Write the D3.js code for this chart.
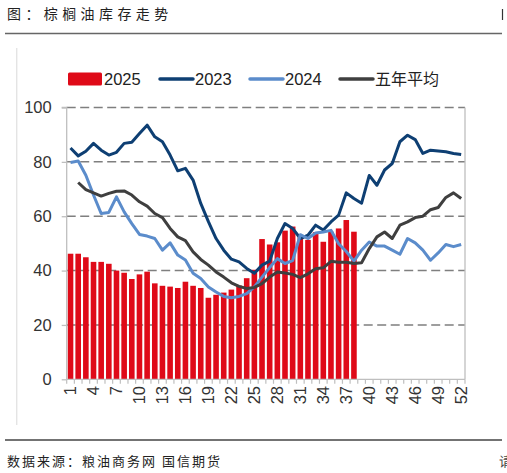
<!DOCTYPE html>
<html><head><meta charset="utf-8">
<script src="https://cdn.jsdelivr.net/npm/d3@7"></script>
<style>html,body{margin:0;padding:0;background:#fff;overflow:hidden}</style>
</head><body>
<svg id="c" width="507" height="473"></svg>
<script>
const weeks = d3.range(1, 53);
const tickWeeks = [1,4,7,10,13,16,19,22,25,28,31,34,37,40,43,46,49,52];
const yTicks = [0,20,40,60,80,100];
const d2025 = [46.2,46.2,44.9,43.2,43.2,42.5,40.0,39.2,36.9,38.6,39.6,35.3,34.4,34.1,33.6,35.9,34.4,33.6,30.0,31.1,31.9,33.0,34.5,37.2,40.3,51.6,49.6,50.4,54.7,56.2,52.2,51.3,54.1,50.6,54.3,55.5,58.6,54.3];
const d2023 = [85.1,82.2,83.9,86.8,84.3,82.5,83.5,86.8,87.2,90.4,93.5,89.2,87.4,82.5,76.7,77.6,73.3,64.7,58,51.8,47.5,44.2,43.2,40.8,39,42,43.5,51.8,57.3,55.5,51.8,53,56.7,54.9,57.9,60.4,68.6,66.5,64.8,75,71.4,77,79.4,87.4,89.8,88.2,83.1,84.3,84,83.7,83.1,82.7];
const d2024 = [79.8,80.3,75.1,67.8,61,61.4,67.1,61.6,57.3,53.3,52.7,51.8,47.5,50.2,45.7,43.9,39,37.1,34,32.1,30.5,30,30.5,31.5,34,37.6,41.1,44.4,42.6,43.7,53.2,51.8,53.8,54.2,54.8,49.9,47,43.5,47.5,50.5,49,49,47.5,46,51.8,50.2,47.5,43.8,46.5,49.6,48.8,49.6];
const avg5 = [null,72.4,69.8,68.6,67.4,68.4,69.2,69.3,67.8,65.3,63.7,61,59.5,55.5,52.4,51,46.9,44.1,42,39.5,37.6,35.5,34.2,33.4,33.8,35.2,37.6,39.5,39.1,38.6,37.4,38.8,40.7,41,43.4,43.1,43.1,42.6,42.9,48.1,52.4,54.2,51.8,56.7,57.9,59.5,60,62.4,63.2,66.9,68.6,66.5];
const seriesNames = ["2025","2023","2024","五年平均"];

const C = {bar:"#DF0A18", s2023:"#0E3F73", s2024:"#5B8CCB", avg:"#3F3F3F", grid:"#7F7F7F", axis:"#BFBFBF"};
const svg = d3.select("#c");
const L = 66.7, R = 465, T = 107.5, B = 379.3;
const x = d3.scaleBand().domain(weeks).range([L, R]).paddingInner(0.27).paddingOuter(0.135);
const xs = d3.scaleBand().domain(weeks).range([L, R]);
const y = d3.scaleLinear().domain([0,100]).range([B, T]);
const cx = w => xs(w) + xs.bandwidth()/2;

// title
svg.append("text").attr("x",7).attr("y",19).text("图：棕榈油库存走势")
  .style("font-family","'Noto Sans CJK SC'").style("font-size","14px").style("letter-spacing","4.4px").attr("fill","#222");
svg.append("line").attr("x1",502.5).attr("x2",502.5).attr("y1",9).attr("y2",20).attr("stroke","#333").attr("stroke-width",1.2);
svg.append("line").attr("x1",5).attr("x2",502).attr("y1",33.5).attr("y2",33.5).attr("stroke","#666").attr("stroke-width",1.5);
// frame left line
svg.append("line").attr("x1",16.8).attr("x2",16.8).attr("y1",48).attr("y2",425).attr("stroke","#D9D9D9").attr("stroke-width",1);

// gridlines
svg.append("g").selectAll("line").data(yTicks.filter(t=>t>0)).join("line")
  .attr("x1",L).attr("x2",R).attr("y1",d=>y(d)).attr("y2",d=>y(d))
  .attr("stroke",C.grid).attr("stroke-width",1.5).attr("stroke-dasharray","9,4.5");

// bars
svg.append("g").selectAll("rect").data(d2025).join("rect")
  .attr("x",(d,i)=>x(weeks[i])).attr("width",x.bandwidth())
  .attr("y",d=>y(d)).attr("height",d=>B-y(d)).attr("fill",C.bar);

// axes
const yAxis = d3.axisLeft(y).tickValues(yTicks).tickSize(5).tickPadding(10).tickFormat(d3.format("d"));
const gy = svg.append("g").attr("transform",`translate(${L},0)`).call(yAxis);
gy.select(".domain").attr("stroke",C.axis).attr("stroke-width",1.3).attr("d",`M-5,${T}H0V${B}`);
gy.selectAll(".tick line").attr("stroke",C.axis).attr("stroke-width",1.3);
gy.selectAll(".tick text").style("font-family","'Liberation Sans',Arial").style("font-size","16.5px").attr("fill","#333");

svg.append("line").attr("x1",R).attr("x2",R).attr("y1",T).attr("y2",B).attr("stroke",C.axis).attr("stroke-width",1.3);
svg.append("line").attr("x1",L).attr("x2",R).attr("y1",B).attr("y2",B).attr("stroke",C.axis).attr("stroke-width",1.3);
svg.append("g").selectAll("line").data(weeks.concat([53])).join("line")
  .attr("x1",d=>d<53?xs(d):R).attr("x2",d=>d<53?xs(d):R).attr("y1",B).attr("y2",B+4.5)
  .attr("stroke",C.axis).attr("stroke-width",1.2);
svg.append("g").selectAll("text").data(tickWeeks).join("text")
  .attr("transform",d=>`translate(${cx(d)},386) rotate(-90)`)
  .attr("text-anchor","end").attr("dy","0.35em").text(d=>d)
  .style("font-family","'Liberation Sans',Arial").style("font-size","16.5px").attr("fill","#333");

// lines
const line = d3.line().defined(d=>d[1]!=null).x(d=>cx(d[0])).y(d=>y(d[1]));
[[d2023,C.s2023],[d2024,C.s2024],[avg5,C.avg]].forEach(([arr,col])=>{
  svg.append("path").datum(arr.map((v,i)=>[weeks[i],v])).attr("d",line)
    .attr("fill","none").attr("stroke",col).attr("stroke-width",3).attr("stroke-linejoin","round");
});

// legend
const lg = svg.append("g");
const lx = [68,160,250,340];
lg.append("rect").attr("x",lx[0]).attr("y",72.5).attr("width",34).attr("height",13).attr("rx",1.5).attr("fill",C.bar);
[[1,C.s2023],[2,C.s2024],[3,C.avg]].forEach(([i,col])=>{
  lg.append("line").attr("x1",lx[i]).attr("x2",lx[i]+33).attr("y1",79).attr("y2",79)
    .attr("stroke",col).attr("stroke-width",3.5).attr("stroke-linecap","round");
});
seriesNames.forEach((n,i)=>{
  lg.append("text").attr("x",lx[i]+(i==0?36:35)).attr("y",85).text(n)
    .style("font-family",i==3?"'Noto Sans CJK SC'":"'Liberation Sans',Arial").style("font-size",i==3?"16px":"16.5px").attr("fill","#222");
});

// footer
svg.append("line").attr("x1",5).attr("x2",502).attr("y1",440).attr("y2",440).attr("stroke","#444").attr("stroke-width",1.5);
svg.append("text").attr("x",7).attr("y",466).text("数据来源：粮油商务网 国信期货")
  .style("font-family","'Noto Sans CJK SC'").style("font-size","13px").style("letter-spacing","2px").attr("fill","#222");
svg.append("text").attr("x",499).attr("y",466).text("请")
  .style("font-family","'Noto Sans CJK SC'").style("font-size","13px").attr("fill","#444");
</script>
</body></html>
